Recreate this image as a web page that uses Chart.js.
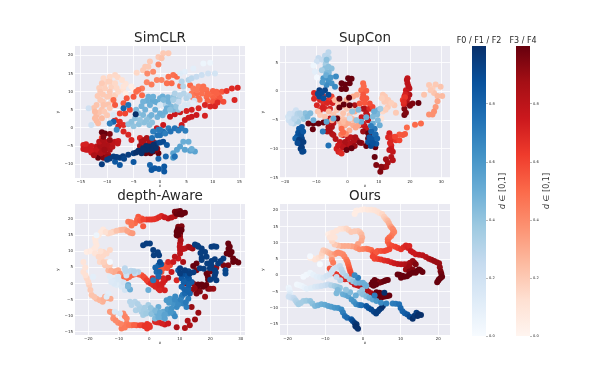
<!DOCTYPE html>
<html><head><meta charset="utf-8">
<script src="https://cdn.jsdelivr.net/npm/chart.js@4"></script>
<style>
html,body{margin:0;padding:0;background:#fff;width:599px;height:384px;overflow:hidden}
canvas{position:absolute;filter:blur(.3px)}
.cb{position:absolute;font-family:"DejaVu Sans";font-size:8px;color:#333;white-space:nowrap;transform:translate(-50%,-50%) rotate(-90deg)}
</style></head><body>
<canvas id="c1" style="left:55px;top:28px" width="195" height="160"></canvas>
<canvas id="c2" style="left:260px;top:28px" width="195" height="160"></canvas>
<canvas id="c3" style="left:55px;top:186px" width="195" height="159"></canvas>
<canvas id="c4" style="left:260px;top:186px" width="195" height="159"></canvas>
<canvas id="b1" style="left:451px;top:28px" width="56" height="314"></canvas>
<canvas id="b2" style="left:495px;top:28px" width="56" height="314"></canvas>
<div class="cb" style="left:502px;top:191px"><i>d</i> ∈ [0,1]</div>
<div class="cb" style="left:546px;top:191px"><i>d</i> ∈ [0,1]</div>
<script>
const bluesMap=["#f7fbff","#deebf7","#c6dbef","#9ecae1","#6baed6","#4292c6","#2171b5","#08519c","#08306b"];
const redsMap=["#fff5f0","#fee0d2","#fcbba1","#fc9272","#fb6a4a","#ef3b2c","#cb181d","#a50f15","#67000d"];
const panelTitles=["SimCLR","SupCon","depth-Aware","Ours"];
const barTitles=["F0 / F1 / F2","F3 / F4"];
const colorbarTicks=[0,0.2,0.4,0.6,0.8];

// [x, y, d]
const simclrBlue=[[-5,.5,.4],[-3,1.5,.42],[-1.5,1.5,.42],[-2,3,.45],[-.5,3,.48],[.5,3.5,.48],[1,4.5,.5],[2.5,5,.45],[3.5,5,.4],[3,6,.4],[2,6,.45],[1,6.5,.3],[-.5,7,.5],[-1.5,7.5,.52],[-2.5,7.5,.5],[-3.5,6,.48],[-4.5,5,.45],[.5,8.7,.5],[1.5,8.5,.48],[2.5,8.5,.4],[3.5,8,.35],[4.5,9.5,.3],[5.5,8.8,.28],[6.5,7.5,.2],[5.5,6.5,.15],[4,5.5,.15],[-6,1,.4],[-4,1,.42],[-2,.8,.42],
[-13.5,5.4,.2],[-13,.8,.2],[-8.8,3.6,.15],[-9.5,1.2,.3],[6.3,16.4,.1],[8.2,17.8,.05],[9.5,18,.05],[4.7,15.5,.1],[3.8,15,.12],
[4.1,12.8,.3],[5.4,13.2,.3],[6,13.7,.28],[6.9,14.1,.25],[7.9,14.6,.22],[9.1,15,.2],[10.4,15,.18],[4.4,11.4,.3],
[2.8,9.5,.32],[3.8,9,.3],[5,8.2,.3],[3.5,7.2,.25],[4.7,6.3,.15],[6.3,6.8,.1],
[-5.4,1.7,.42],[-4.7,2.7,.42],[-3.8,2.2,.4],[-4.1,4,.42],[-3.2,3.6,.45],[-2.5,2.2,.42],[-2.8,5,.48],[-1.9,6.3,.5],[-.9,7.2,.52],[0,8.2,.5],[.6,7.7,.45],[1.6,7.2,.48],[1.3,5.4,.5],[0,6.3,.15],[-.9,5,.5],[-1.6,3.6,.48],[0,4,.5],[1.9,5,.42],[2.5,7.7,.35],[-1.3,8.6,.5],[-2.2,8.6,.5],[-3.2,7.2,.48],
[-6.9,5.4,.8],[-6,6.3,.75],[-4.6,3.8,1],[-8.8,1.7,.8],[-9.5,1.2,.7],[-8.2,-.5,.65],
[2.5,-7,.55],[3.2,-6,.55],[3.8,-5.1,.55],[4.4,-3.8,.5],[5.4,-3.8,.5],[4.7,-6,.55],[5.7,-6.3,.55],[6.6,-6.5,.55],[6,-5.8,.5],[2.5,-8.2,.6],
[-1.3,-1,.7],[-.3,-.5,.7],[.6,-1,.75],[1.6,-.1,.7],[2.8,-.1,.75],[4.1,-.1,.7],[0,-2,.75],[1,-1.5,.7],[0,-.5,.72],[2,-1,.75],[3.5,-.7,.72],[-1.5,-2.8,.75],[-.5,-2,.75],[4.8,-.8,.7],
[-5,-9.4,.85],[-8.5,-9.3,.85],[-7.6,-10.2,.85],[-1.9,-10.2,.8],[-1.6,-11.6,.85],[-1,-11.1,.85],[-.2,-11.3,.85],[.8,-10.6,.85],[.8,-12,.85],[-.3,-8.5,.8],[1.1,-7.9,.8],[2.8,-7.9,.75],
[-11,-10,.95],[-10,-8.8,.95],[-8.8,-7.9,.95],[-7.6,-8.2,.95],[-6,-7.4,.95],[-5,-7,.95],[-4.1,-6.3,1],[-3.2,-5.6,1],[-1.9,-5.1,1],[-.6,-4.2,.95],[.6,-3.8,.9],[1.3,-4.7,.85],[-3.5,-7,1],[-2.5,-6,1],[-9.5,-8.4,.95],[-8.2,-8,.95],[-7,-7.8,.95],[-6.8,-8.5,.92],[-4.5,-6.8,1],[-2.6,-5,1],[-1.2,-4.6,1],[0,-4,.9],[-.8,-5.5,1],[-1.5,-6.3,1],[-3,-6,1]];
const simclrRed=[[-11.5,11,.18],[-10.5,12,.17],[-9.2,11.3,.17],[-8.2,11,.15],[-7,10.5,.12],[-10.8,9.2,.2],[-9.5,8.8,.2],[-8.5,9,.18],[-11.8,8.8,.2],[-11,5,.22],[-12,3.5,.25],[-10,3.5,.2],[-11.5,4.3,.22],[-10.8,7.2,.2],[-9.8,6.5,.22],[-12.5,5.5,.22],[-12,2,.25],[-9.5,12.8,.18],[-8,14,.15],[-6.5,12.2,.1],[-5,10.5,.03],
[-10.7,13.7,.15],[-9.5,14.1,.15],[-8.5,14.6,.15],[-7.2,13.2,.12],[-11,12.3,.2],[-9.8,12.8,.18],[-8.5,12.3,.15],[-6.9,11.4,.1],[-5.4,11.4,.05],[-10.4,10.9,.18],[-11.3,10,.2],[-9.5,10,.2],[-7.9,10,.15],[-11.3,7.7,.2],[-10,8.6,.2],[-12,6.3,.22],[-10.7,6.3,.22],[-12.3,4.5,.25],[-12.3,2.7,.25],[-11,2.7,.25],[-11.7,1.3,.25],[-10.5,4.5,.2],[-9,7.5,.2],[-9.5,5.5,.2],[-6.5,9.5,.05],
[-2.8,16.9,.2],[-1.9,18.3,.2],[-.3,19.6,.2],[.6,20.6,.2],[1.6,20.6,.2],[.3,19.2,.22],[-3.2,15.9,.2],[-4.4,15.2,.15],[-2.2,16.9,.2],
[-2.4,15,.4],[-1.3,15.5,.4],[-.3,17.5,.42],[-.6,13.2,.42],[.3,13.2,.42],[-3.4,10.9,.45],[-2.5,12.6,.42],[-1.6,12,.45],[-4.5,10,.5],[1.6,14.1,.48],[2.5,14.6,.48],[3.2,14.1,.5],[1.3,12.3,.48],[2.2,12.3,.5],[3.8,11.6,.5],[5.7,11.8,.5],
[-4.1,10.5,.5],[-3.4,9,.5],[-5,8.6,.55],[-6.3,8.2,.55],[-6.9,6.8,.55],[-8.8,7.7,.5],[-8.5,6.3,.55],[-5.7,5,.6],[-6.6,4,.6],[-7.6,4,.6],
[6.3,10.9,.45],[7.3,11.4,.45],[8.2,11.4,.48],[8.8,10.5,.48],[6,9.5,.45],[6.9,9.5,.48],[7.9,9.5,.48],[7.3,8.2,.48],[8.8,8.6,.5],[9.8,9,.5],[10.7,10,.52],[11.7,10,.55],[10.1,8.2,.52],[11,7.7,.55],[12,7.2,.58],[7,10.4,.45],[8,10.6,.48],[9,9.5,.5],[10,10.2,.52],[11,9,.52],[11.3,8.3,.55],[9,7.5,.52],[10,7.2,.55],[10.7,9.5,.52],[6.2,8.5,.45],[7.5,7.8,.48],
[12.6,10.2,.65],[13.6,10.9,.68],[14.7,11.1,.7],[14.1,7.7,.7],
[1.9,3.1,.75],[2.8,3.8,.75],[3.8,4.3,.75],[5,4.7,.72],[6,5,.72],[7.3,5.4,.7],[8.5,6.3,.7],[9.5,5.9,.7],[10.4,6,.7],[10.9,7,.68],[8.5,3.4,.72],[6.9,3.6,.75],[6,3.1,.75],[5.4,2.8,.75],[4.7,2.2,.75],[4.1,.8,.75],[3.5,-.5,.75],[.6,.8,.75],[-.6,-.1,.75],
[-8.5,2.2,.68],[-7.6,1.7,.68],[-6.9,.8,.68],[-7.9,.4,.7],[-6,-1.9,.7],[-6.9,-1,.7],[-5.4,-3.3,.7],[-3.8,-2.8,.7],[-11,-2.7,.6],
[-14.5,-4.7,.72],[-14.5,-5.8,.75],[-13.9,-5.1,.72],[-13.6,-6,.75],[-12.6,-6.3,.75],[-12,-5.1,.8],[-11.3,-4.2,.8],[-10.4,-3.8,.82],[-9.5,-3.8,.8],[-8.5,-3.8,.78],[-7.9,-3.6,.75],[-12,-7,.82],[-11,-6,.85],[-10,-5.6,.85],[-9.5,-6,.85],[-10.4,-7,.85],[-11.7,-8.2,1],[-10.7,-8.2,.95],[-9.8,-7.4,.88],[-13,-6.8,.75],[-14,-4.5,.72],[-13.2,-5.5,.75],[-13,-5,.75],[-14,-6,.75],[-12,-6,.78],[-11.3,-5,.85],[-10.5,-4.8,.85],[-11.2,-7,.85],[-10.5,-6,.88],[-9.6,-4.8,.85],[-9,-5.2,.82],[-9,-4,.8],[-8,-4.3,.78],[-11.5,-3.8,.8],[-10.8,-3.3,.85],[-12.5,-7.5,.85],[-10,-8,.9],
[-11,-1.2,1],[-10.4,-1.5,1],[-9.5,-1.7,.95],[-9.5,-3.3,.9],[-10.7,-2.4,.95],
[-3,-3.3,.85],[-2,-4,.85],[-3.8,-5,.88],[-3,-5.3,.88],[-1,-5,.9],[-.5,-5.7,.9],[-3.5,-3.8,.85],[-2.5,-2.8,.85],[-1.9,-3.3,.85],[-1.3,-3.8,.85],[-2.8,-4.7,.85],[-2.2,-5.1,.9],[-1.6,-5.4,.9],[-3.2,-6.3,.92],[-2.2,-6.3,.95],[-1.3,-6.5,1],[-.3,-7,1],[-2.7,-7,1],[-1.8,-7,1],[-.7,-6,.95]];

const supconBlue=[[-6.1,6.8,.28],[-9.3,5.8,.25],[-9.8,5.2,.2],[-8.2,5.5,.25],[-7.2,6.2,.28],[-10.9,4.5,.05],[-10.4,3.4,.1],[-9.8,2.4,.02],[-6.9,5,.3],[-6,5.8,.3],[-7,4.7,.35],
[-6.7,5.5,.42],[-6.1,4.3,.42],[-7.2,4,.42],[-5.1,4,.42],[-8.2,3.7,.35],[-6.7,3.1,.45],[-6,3.3,.45],
[-7.7,2.3,.6],[-6.1,2,.62],[-5.1,1.4,.62],[-3.7,2.6,.65],[-6.7,1.1,.65],[-4,.8,.65],[-8,1.6,.58],[-6.8,2.8,.5],[-5.4,2.4,.6],
[-9,.2,.95],[-7.2,.2,.92],[-6.1,-.6,.9],[-9,-.9,.9],[-7.7,-1.2,.88],[-8.2,-.2,.9],[-9.5,-.4,.9],
[-18.8,-5,.2],[-17.2,-3.8,.22],[-17.8,-4.7,.25],[-16.2,-4.4,.28],[-14.6,-4.4,.32],[-17.2,-5.6,.3],[-15.8,-5.3,.35],[-13.5,-3.8,.42],[-11.9,-3.8,.45],[-10.9,-5,.5],[-18,-5.5,.22],[-16.5,-3.3,.2],[-19,-4.4,.18],[-18.5,-3.9,.2],[-17,-4.8,.28],[-16,-3.9,.3],[-15.2,-3.8,.32],[-14,-4.8,.38],[-12.8,-4.4,.45],
[-14.6,-6.2,.85],[-15.1,-7,.88],[-16.2,-7.9,.85],[-14.6,-8.2,.92],[-15.1,-9.1,.95],[-14.1,-8.8,.95],[-14.6,-9.7,.95],[-14.1,-10.4,.9],[-16.7,-8.2,.8],[-15.5,-8.4,.95],[-15.5,-6.5,.85],[-16,-9,.9],[-15.8,-7.2,.88],[-14.8,-7.5,.9],[-15,-10,.95],[-14.5,-10.5,.92],[-14.2,-7,.85],
[-6.1,-9.4,.75],[-7.9,-7,.7],[-6.7,-5.3,.55],[-4.5,-4.7,.5],[.7,-4.7,.2],[4.4,-5.3,.5],[8.1,-4.4,.45],[9.7,-3.3,.5],[8.7,-6.5,.72],[7.6,-7,.8],[8.1,-8.2,.85],[9.2,-9.1,.85],[6.6,-8.8,.85],[9.7,-5,.45],[10.3,-5.9,.5],[8.1,-5.6,.5],[2.9,-5,.4],[1.5,-3.5,.4],[3.5,-3.2,.45],[6,-4.5,.5],[7.5,-9.5,.9],[9,-7.5,.8],[7.5,-6,.7],[8.8,-7.5,.78],[9.5,-8.2,.8],[8.1,-9,.88],[9.5,-4,.45],[10.5,-3,.35],[8.5,-3.5,.5],[7,-8,.85]];
const supconRed=[[-10.7,-.3,.7],[-10.7,-1.3,.7],[-9.8,-2.4,.7],[-8.8,-1.5,.7],[-7.7,-2.1,.68],[-6.1,-1.5,.65],[-5.1,-.9,.6],[-7.2,-3,.7],[-5.6,-3,.7],[-8.8,-3.3,.68],[-9.5,-.5,.65],[-7.8,-.8,.65],[-8,-2.8,.72],[-6.5,-2,.7],[-4.8,-2,.72],[-9,-.5,.68],
[-4.5,-5.5,.8],[-5,-6.2,.85],[-4.9,-7.4,.85],[-3.8,-8.3,.82],[-3.5,-10,.72],[-2.9,-10.5,.72],[-2,-9.5,.78],[-.5,-9.4,.82],[.3,-9.5,.85],[1,-8,.8],[2.5,-8,.85],[3,-8.5,.85],[4.5,-9,.9],[6,-9.5,1],[6.5,-9.3,1],[7,-7.7,1],[5.5,-3,.82],[6.3,-4.2,.8],[5.5,-6,.78],[4.5,-4.5,.75],[7,-3,.7],[8,-2.7,.6],
[-6.1,-6.2,.85],[-5.6,-7,.85],[-4.5,-7.6,.82],[-6.5,-7,.85],[-5.6,-4.7,.8],[-6.1,-5.4,.8],[6,-3.8,.8],[6.6,-5,.8],[5,-5.6,.75],[6,-6.5,.78],[5,-7,.9],[2.3,-2.4,.85],[5,-3,.85],[3.9,-5.9,.75],
[-2.4,-8.8,.78],[-1.4,-7.6,.8],[.2,-8.2,.8],[.7,-9.1,.82],[-.8,-8.8,.85],[-3,-9.4,.75],[-2.4,-10.5,.7],[-1.9,-10.8,.68],[-1.4,-9.7,.8],[1.8,-8.8,.85],[3.9,-8.9,.95],[2.3,-9.5,.9],[-.3,-10.2,1],[1.3,-9.9,1],[6.6,-8.2,1],[7.1,-8.8,1],[6.6,-7.3,1],
[-4,-1.5,.25],[-2.4,-1.8,.25],[1.8,-.9,.3],[-.3,-1.5,.28],[-3.5,-3.3,.2],[-1.4,-3.8,.22],[-.3,-5,.25],[.7,-4.1,.2],[2.3,-3.5,.3],[1.8,-5.9,.3],[-.8,-5.9,.3],[-2.4,-5.3,.28],[-8.8,-4.1,.2],[-7.2,-4.4,.22],[3.4,-5.9,.32],[-1.5,-4.8,.22],[.6,-6.8,.3],[-4.5,-4,.22],[-3,-4.6,.25],[-2,-6,.28],[-1.1,-5.3,.25],[.3,-5.5,.3],[1.5,-4.8,.25],[2.8,-5,.3],[2.6,-6.3,.32],[1,-3,.2],[-.2,-3,.2],[-1.5,-2.5,.22],[-3,-2.5,.2],[.5,-1,.25],[3,-.6,.3],[-6,-3.5,.25],[-5,-5,.3],[-9.5,-3.5,.22],[-2,-7.5,.45],[-.5,-7.4,.4],
[5,1.4,.5],[4.4,.2,.5],[6,.1,.52],[5,-.6,.55],[6,-1.2,.55],[7.1,-2.1,.58],[3.9,-2.1,.55],[5.2,.9,.5],[4.8,-1.2,.55],[5.5,-2,.55],
[11.3,-.6,.2],[11.8,-1.8,.2],[13.4,-1.9,.2],[15,-2.4,.2],[15.5,-3.7,.2],[12.9,-2.7,.2],[11.3,-3.5,.15],[10.8,-4.7,.1],[12,-.9,.2],[13,-1.5,.2],[14,-2,.18],[12.2,-3.2,.18],[11,-1.2,.18],
[24.5,-.6,.22],[26.1,1.1,.2],[27.2,.5,.18],[28.2,1.2,.2],[29.8,.8,.22],[27.7,-.3,.22],[30.3,-.8,.25],[28.8,-.8,.25],[26.6,.2,.2],
[28.8,-1.7,.32],[28.2,-2.7,.35],[27.7,-3.5,.38],[26.1,-4,.38],[27.2,-4,.38],
[19.2,2.3,.78],[19.2,1.4,.8],[19.8,.5,.8],[18.7,.2,.75],[18.2,-.9,.72],[19.8,-.6,.85],[18.7,-1.5,.7],[17.7,-1.5,.62],[19.2,-2.1,.85],[20.8,-2.1,.95],[22.7,-2,1],[18.2,-3,.95],[18.2,-4.1,.98],[18.7,-3.7,.95],[19,2,.8],[19.5,.9,.8],[19,-.4,.78],[18.5,-.5,.72],[19.3,-1.2,.8],[18,-2.2,.7],[18.4,-1,.65],[18,-1.8,.68],[20,-2.5,.95],
[19,-6.3,.5],[21.6,-5.8,.5],[23.5,-5.6,.5],
[13.4,-7.3,.72],[14,-8.5,.7],[14,-9.4,.72],[15.5,-8.5,.65],[16.6,-8.5,.6],[17.7,-7.6,.55],[16.6,-7.5,.55],[18.4,-7.4,.55],[13,-8,.7],[13.6,-9,.7],[14.2,-8,.68],[15.2,-7.9,.6],[14,-10,.75],[12.3,-11.8,.88],[11.6,-13.2,.9],
[13.4,-10.2,.78],[14.5,-10.5,.78],[14,-11.4,.82],[14.5,-12,.82],[12.9,-12.4,.88],[12.4,-13.1,.88],[10.8,-13.1,.92],[10.5,-14,.95],[9.2,-12.8,.95],[8.7,-11.4,1],[8.9,-9.7,1],
[-1.9,-6.5,.5],[-1.4,-7.1,.5],[-2.6,-1.3,1],[-1.2,-2.3,1],[-2.6,-2.8,1],[.7,-2.4,1],[.5,-1.1,1],[-3.3,-4.7,1],[-12.5,-5.6,1],[-10.9,-5.6,1],[-11.1,-6.6,1],[-9.3,-5.6,1],[-7.7,-5.4,1],[-1.9,1.4,1],[.2,2.3,1],[1.3,2.2,1],[-.8,1.2,1],[.7,1.4,1],[-1.9,.4,1],[-.5,.4,1]];

const depthBlue=[[-18.4,2.1,.1],[-17.3,15,.05],[-12.9,6.7,.02],[-12.9,2.1,.12],[-11.3,1,.15],[-10.2,2.1,.15],[-9.1,.5,.15],[-10.7,-.5,.12],[-13.4,-3.1,.1],[-14,-4.1,.12],[-9.1,-1,.15],[-11.3,-8.8,.15],[-9.6,-9.3,.15],[-11.8,.5,.13],[-8,-2,.18],[-11.5,-.1,.14],[-10,1.2,.15],[-8.4,.3,.18],[-12.5,.5,.13],
[-8,4.7,.28],[-6.9,3.6,.3],[-3.6,3.6,.3],[-4.7,3.1,.25],[-6.3,-5.7,.3],[-5.8,-6.7,.3],[-4.7,-5.7,.3],[-4.4,-8.3,.32],[-2.5,-8.8,.35],[-2,-9.8,.35],[-3.1,-7.3,.32],[-.3,-6.7,.35],[-.3,-8.8,.35],[-1.5,-7.5,.35],[-7.5,2.5,.2],[-7.8,3.8,.28],[-6,4,.28],[-5,3.8,.3],[-3.8,-6.4,.32],[-3.2,-8,.33],[-1.8,-8.5,.35],[-1,-9.3,.37],
[-6.9,-.5,.5],[-6.3,-1.9,.5],[-.3,-2,.5],[1.3,-8.3,.45],[3,-7.3,.5],[2.4,-9.3,.5],[4,-10.4,.52],[4.6,-8.8,.52],[5.1,-10.9,.55],[6.2,-9.3,.55],[1.9,-10.9,.45],[-7,-.9,.45],[.7,-9.5,.42],[.5,-7.6,.4],[2,-8.5,.45],[3.5,-9,.5],[3,-10.5,.5],[5,-9.7,.55],[6,-8,.58],
[7.9,-9.3,.62],[8.4,-10.2,.65],[7.3,-7.8,.62],[9,-7.3,.65],[9.5,-5.7,.65],[7.9,-6.2,.62],[6.8,-4.7,.6],[5.7,-5.2,.6],[11.1,-6.2,.68],[12.2,-7.3,.7],[12.8,-4.7,.72],[10.6,-4.1,.7],[8.5,-4,.65],[7,-9,.6],[6.5,-6,.6],[8.4,-5,.65],[9.5,-6.5,.65],[10.3,-5,.68],[11,-3.5,.72],[12,-5.8,.72],
[11.7,-3.1,.78],[13.3,-3.1,.8],[10.6,-1,.78],[12.8,-1.6,.8],[12.2,1,.82],[13.9,.5,.82],[10.6,1.6,.85],[9.5,4.1,.85],[11.7,3.6,.85],[3,5.7,.8],[2.4,3.6,.78],[1.3,1,.72],[3.4,3.6,.8],[11.5,-1.8,.8],[13,-.4,.82],[12.5,-2.2,.8],[11.3,.4,.82],[13,1.6,.85],[12.3,2.5,.87],[10.8,3,.9],[12.9,3.8,.92],[3,2.2,.78],[2,5,.8],[3.9,6,.85],
[-.9,12.4,.95],[.2,12.4,.95],[-2,11.9,.95],[1.3,10.4,.95],[3.2,8.8,.95],[3.5,6.7,.9],[15,12.1,.95],[16.1,11.4,.95],[17.2,10.9,.95],[18.3,9.8,.95],[18.8,8.3,.95],[17.2,8,.95],[20.4,11.4,.95],[22,11.4,.95],[20.4,5.7,.95],[21.5,4.1,.95],[21.5,2.6,.95],[22,1,.95],[19.9,4.7,.95],[22.6,6.2,.95],[24.3,7.8,.95],[25,4.1,.92],[25,3.1,.92],[10.1,4.7,.95],[11.7,4.1,.95],[13.3,3.1,.95],[16.6,4.7,.95],[17.2,7.3,.95],[10.1,3.1,.95],[14.5,3.5,.95],[17.9,4.6,.95],[19,6.2,.95],[20.4,7,.95],[21.5,7.5,.95],[23.4,7,.95],[16.8,9.5,.95],[15.8,11.8,.95],[21.2,11.6,.95],[21.8,3.4,.95],[21.3,1.8,.95],[20,1.2,.95],[1.5,8.8,.95],[2.8,9.7,.95]];
const depthRed=[[-21.6,6.7,.1],[-21.6,3.6,.12],[-20.5,1.6,.15],[-19.7,-.5,.18],[-18.9,-3.6,.22],[-17.3,-4.7,.25],[-15.3,-5.7,.28],[-14.5,-4.1,.28],[-12.7,-4.7,.3],[-21,5,.1],[-20.9,2.6,.12],[-20,.5,.15],[-19.3,-2,.2],[-18,-4.2,.22],[-16.2,-5.2,.26],[-15,-5,.28],[-13.6,-4.5,.3],
[-12.9,-8.8,.35],[-11.8,-9.3,.35],[-11.8,-10.9,.38],[-10.2,-12.2,.4],[-8.5,-13,.42],[-9.1,-14,.45],[-7.4,-12.4,.45],[-5.8,-13,.5],[-7.4,-10.9,.42],[-8.5,-9.3,.4],[-4.2,-13,.55],[-2.2,-13,.65],[-.7,-12.6,.65],[-.7,-14,.65],[.2,-13.5,.65],[1.9,-11.9,.7],[3.2,-12.1,.7],[5.1,-12.7,.75],[6.2,-12.4,.75],[9,-13.6,.85],[11.7,-13.8,.85],[13.3,-13,.85],[12.6,-11.6,.85],[15,-11.2,.9],[16.1,-9.1,.9],[13.9,-7.3,.9],[-12.3,-9,.35],[-11,-11.5,.4],[-9.3,-12.6,.42],[-8,-13.7,.45],[-6.6,-13,.47],[-8,-10.2,.42],[-5,-12.9,.52],[-3,-13,.6],[-1.5,-13.3,.65],[0,-13,.65],[2.5,-12,.7],[4.2,-12.4,.72],
[-20.5,9.8,.05],[-18.4,10.4,.08],[-17.3,11.9,.08],[-17.8,14,.08],[-16.6,15,.08],[-15.1,16.8,.08],[-13.5,15.5,.15],[-11.8,16.1,.18],[-9.6,16.6,.25],[-8,16.8,.28],[-6.3,15.8,.35],[-6.9,19.2,.45],[-4.7,18.7,.5],[-3.6,20.7,.55],[-2.5,20.2,.55],[-2,17.8,.55],[-.9,19.9,.65],[.8,19.9,.65],[2.4,20.2,.68],[4,21,.7],[6.2,20.2,.8],[8.4,20.9,.85],[8.4,22.3,.95],[10.1,22.5,1],[11.7,22,1],[9,21.7,1],[10.6,21.4,1],[-19.5,10,.06],[-17.8,11,.08],[-17.6,13,.08],[-17.2,14.5,.08],[-15.8,16,.08],[-14.3,16,.12],[-12.6,15.8,.16],[-10.7,16.4,.22],[-8.8,16.7,.27],[-7.2,16.3,.32],[-5.5,15.6,.35],[-6,19,.47],[-5.8,18,.47],[-4,19.8,.52],[-3,19.5,.55],[-1.9,19.9,.6],[0,19.9,.65],[1.6,20,.66],[3.2,20.6,.69],[5,20.6,.75],[7.3,20.5,.82],[9.2,22.4,.98],[9.9,21.5,1],[11,21.8,1],
[9.5,17.6,.95],[10.6,17.8,.95],[9,16.1,1],[10.1,15.5,1],[9,15,1],[10.6,16.6,1],[10.1,14.5,.9],[10.1,12.4,.8],[10.1,10.4,.8],[11.7,10.9,.8],[12.8,11.4,.85],[14.2,10.9,.9],[9.3,16.8,1],[9.5,14.8,1],[10.3,13.4,.85],[10,11.4,.8],[11,10.7,.8],[13.4,11.2,.88],
[-17.8,9.3,.1],[-16.6,8.3,.15],[-15.1,8.8,.15],[-16.2,6.7,.15],[-14,6.7,.15],[-12.9,10.4,.15],[-15.1,9.8,.15],[-14.5,5.7,.2],[-13.4,4.1,.25],[-11.8,3.6,.3],[-10.2,4.1,.3],[-9.1,2.1,.45],[-7.4,1.6,.5],[-5.8,2.6,.5],[-4.2,3.1,.5],[-2.5,2.6,.55],[-1.4,1.6,.6],[-.3,.5,.65],[1.3,-.5,.7],[3,-1.6,.7],[2.4,.5,.7],[4,-1,.72],[5.1,1,.75],[6.2,1.8,.8],[3.5,5.2,.55],[5.1,5.7,.55],[4,3.6,.55],[6.8,5.7,.6],[6.2,6.7,.7],[7.9,6.7,.75],[9.5,7.8,.75],[8.4,8.3,.8],[11.1,6.7,.85],[10.1,9.3,.8],[-14,9.3,.15],[-16,10,.12],[-15.7,7.7,.15],[-15,6.6,.18],[-13,5.5,.2],[-12.5,4,.28],[-11,3.8,.3],[-9.6,3,.38],[-8.2,1.8,.48],[-6.6,2,.5],[-5,2.8,.5],[-3.4,2.8,.52],[-1.9,2.1,.58],[-.8,1,.62],[.5,0,.68],[2,-1,.7],[1.5,.8,.7],[3.3,-.5,.72],[4.5,.2,.73],[3.2,4.3,.55],[4.6,4.7,.55],[5.9,4.8,.58],
[15.5,6.2,1],[15.5,4.1,.95],[19.3,1.2,1],[16,-1.6,1],[17.7,-1,1],[19.3,-1.6,.95],[21,-1.6,.9],[18.3,-4.1,.9],[18.8,3.1,1],[20.8,4.4,.95],[22,5,.9],[25.9,12.4,1],[26.4,11.4,1],[27,9.8,1],[25.4,9.3,1],[27.5,7.8,1],[29.2,6.5,1],[27.5,6.7,1],[25.9,5.7,.95],[24.3,5.7,.95],[14.4,5.4,1],[12.2,0,.9],[14.4,0,.9],[13.9,-2,.9],[15.5,-3.1,.95],[16,-.3,1],[17.2,-.3,1],[18.7,-.5,1],[20,-1.6,.92],[19.2,2.2,1],[20,3.7,.98],[26,10.8,1],[26.5,9,1],[28.3,7,1],[16.6,-2.5,.95],[14.9,-1.5,.92],
[1.1,1.6,.7],[3,2,.72],[4.6,1.6,.72],[7.3,3.6,.75],[9,1,.7],[3.5,-2.1,.7],[5.1,-2.1,.72]];

const oursBlue=[[-19.7,-3.8,.05],[-19.5,-4.5,.07],[-19.3,-5.3,.1],[-19.5,-6,.15],[-19.7,-6.6,.2],[-19,-6.9,.22],[-18.4,-6.9,.25],[-18.1,-7.3,.27],[-17.8,-7.8,.3],[-17.5,-8.3,.32],[-17.1,-8.9,.35],[-16.5,-8.5,.35],[-15.8,-7.9,.35],[-15,-7.8,.37],[-14,-7.9,.4],[-13.4,-8.6,.42],[-12.7,-9.4,.45],[-11.9,-9.2,.48],[-11,-8.9,.5],[-10.1,-9,.52],[-9.2,-9.4,.55],[-8.4,-9.6,.57],[-7.5,-9.9,.6],[-6.6,-10,.62],[-5.7,-10.5,.65],[-5.3,-11.4,.7],[-4.8,-12.5,.75],[-4.2,-13,.78],[-3.1,-13.5,.85],[-2.7,-14,.9],[-2.2,-14.6,.95],[-1.7,-15,.98],[-2,-15.6,1],[-1.6,-16,1],[-1.3,-16.4,1],
[-17.5,-2.8,.03],[-16.8,-3,.04],[-16.2,-3.3,.05],[-15.5,-3.7,.07],[-14.9,-4.1,.1],[-13.8,-3.9,.12],[-12.7,-3.5,.15],[-11.9,-3.4,.17],[-11,-3.3,.2],[-10,-3,.22],[-9.2,-2.8,.25],[-8.4,-3,.3],[-7.5,-3.3,.35],[-6.8,-3.5,.38],[-6.1,-3.8,.4],[-6.4,-4.7,.42],[-7,-5.5,.45],[-5.3,-5.8,.5],[-4.6,-6,.52],[-3.9,-6.4,.55],[-3,-7.4,.6],[-2.4,-8.1,.62],[-1.8,-8.9,.65],[-1,-9.1,.7],[-.4,-9.2,.75],[.9,-9.4,.85],[1.5,-10,.87],[2.2,-10.5,.9],[2.9,-11.2,.92],[3.5,-11.7,.95],[4,-11,.95],[4.4,-10.5,.95],[4.9,-10,.97],[5.3,-9.4,1],
[-14,5.9,.02],[-11.4,3.4,.01],[-15.8,-.4,.02],[-15,.2,.03],[-14,.8,.05],[-13.2,.2,.08],[-12.3,-.4,.1],[-11.4,-.6,.12],[-10.5,-.7,.15],[-9.7,-.2,.18],[-8.8,.3,.2],[-8.3,1,.2],[-7.9,1.8,.2],[-7,2.4,.22],[-6.1,2.9,.25],[-5.7,1.8,.28],[-5.3,.8,.3],[-4.4,-.2,.32],[-3.5,-1.2,.35],[-2.6,-1.8,.4],[-1.8,-2.3,.45],[-.9,-2.3,.48],[0,-2.3,.5],[.5,-2.8,.5],[.9,-3.3,.5],[-.2,-4.5,.4],[-.9,-5.3,.4],[0,-5.9,.42],[.9,-6.4,.45],[1.7,-6.9,.5],[2.6,-7.4,.55],[3.6,-7.9,.6],[4.8,-8.4,.65],[6.2,-8.6,.68],[7.9,-8.6,.7],[8.7,-8.7,.72],[9.6,-8.9,.75],[10,-10,.78],[10.5,-11,.8],[11.1,-11.6,.82],[11.8,-12,.85],[12.4,-12.7,.9],[13.2,-13.3,1],[13.7,-12.4,.97],[14.2,-11.5,.95],[14.8,-11.9,1],[15.4,-12.2,1],[14.5,-12.5,1],[3.1,-6.2,.7],[5.7,-5.3,1],[-1.3,-.7,.7],[-2.2,0,.65],[-6.7,-4.5,.45],[-3.4,-5.2,.45],[-1.9,-6.2,.5],[-4.5,-4.4,.4],[-6,-1.5,.3],[-7,-.5,.25]];
const oursRed=[[-2.2,18.8,.05],[-1.8,19.8,.05],[-1.5,19.9,.05],[-.4,20.1,.05],[.4,20.3,.06],[1.3,20.1,.08],[2.2,20.1,.09],[3.1,20,.1],[3.8,19.6,.11],[4.4,19.1,.12],[5.1,18.8,.15],[5.6,18,.18],[6,17.4,.2],[6.3,17,.22],[6.6,16.7,.25],[6.9,16,.28],[7.2,15.2,.3],[7.5,14.8,.35],[7.9,14.2,.4],[8.1,13.8,.4],[8.3,13.3,.42],[7.9,12.8,.43],[7.5,12.1,.45],[7,11.6,.48],[6.6,11.1,.5],[6.6,10.3,.52],[7,9.5,.55],[7.7,9.1,.58],[8.6,8.8,.6],[9.3,8.4,.62],[10.1,8,.65],[10.8,8.6,.68],[11.4,9.2,.7],[12,8.4,.72],[12.3,9,.7],[12.7,7.5,.75],[13.3,7,.75],[14,6.5,.75],[14.9,6.3,.78],[15.8,6.2,.8],[16.7,5.6,.82],[17.5,5.1,.85],[18.2,4.8,.88],[18.9,4.4,.9],[19.6,4,.9],[20.2,3.7,.9],[20.4,2.5,.92],[20.6,1.3,.95],[20.8,.5,.98],[21,-.4,1],[20.6,-.8,1],[20.2,-1.2,1],[20,-1.6,1],[19.7,-2.1,1],
[-9.2,12.6,.05],[-8.5,12.9,.07],[-7.9,13.1,.1],[-7,13.7,.1],[-6.1,14.2,.1],[-5.2,14.3,.12],[-4.4,14.4,.15],[-3.8,13.9,.17],[-3.1,13.3,.2],[-2.2,13.5,.2],[-1.3,13.6,.2],[-.8,13.2,.22],[-.4,12.6,.25],[-.2,11.6,.28],[-.4,10.6,.3],[-1.3,9.6,.33],[-2.2,8.8,.35],[-3,8.9,.33],[-3.9,9,.3],[-4.8,9,.3],[-5.7,9,.3],[-6.6,9.2,.25],[-7.5,9.5,.2],[-8.2,10.5,.15],[-8.8,11.6,.1],[-8.2,11.6,.1],[-7.5,11.6,.1],[-1.6,8.4,.37],[-.9,8,.4],[0,8.1,.42],[.9,8.2,.45],[1.5,8,.48],[2.2,7.8,.5],[2.7,7.1,.55],[3.1,6.5,.6],[3.5,7,.55],[3.9,7.5,.55],[4.8,7.5,.57],[5.7,7.5,.6],[6.3,7.7,.6],[7,8,.6],[2.6,5.8,.6],[3.1,5.1,.6],[4,5,.62],[4.8,4.9,.65],[5.7,4.6,.68],[6.6,4.4,.7],[7.5,4,.72],[8.3,3.7,.75],[9.2,3.5,.78],[10.1,3.4,.8],[11,3.4,.82],[11.8,3.4,.85],[12.5,3.9,.88],[13.2,4.4,.9],[13.6,3.9,.92],[14,3.4,.95],[12.3,2.8,.9],[11.4,1.8,.9],[13.2,1.8,.95],[12.3,1.2,.95],[12.3,.3,1],[13.2,.8,1],[14.5,1.4,1],[14.9,1.8,1],[15.3,1.5,1],[15.8,1,1],[14,.8,1],[11,-.4,1],[11.7,-.3,1],[10.5,-.1,1],[9.2,.3,1],[9.7,.2,1],[10.1,-.7,1],
[-14,5.4,.05],[-13.4,5.3,.07],[-12.7,4.9,.1],[-11.8,5.4,.12],[-11,5.9,.15],[-10.8,6.8,.17],[-10.5,7.7,.2],[-9.8,7.4,.22],[-9.2,7,.25],[-8.7,6.7,.28],[-8.3,6.5,.3],[-7.5,6.5,.35],[-7,6.8,.38],[-6.6,7,.4],[-5.9,6.8,.4],[-5.3,6.5,.4],[-4.9,5.8,.42],[-4.4,4.9,.45],[-4.1,4.2,.48],[-3.9,3.4,.5],[-3.7,2.6,.52],[-3.5,1.8,.55],[-3.3,1,.58],[-3.1,.3,.6],[-8.3,5.4,.3],[-8.2,4.7,.38],[-7.9,3.9,.45],[-8.8,2.1,.55],[-8.4,1.5,.58],[-7.9,.8,.6],[-7.5,.5,.62],[-7,.3,.65],[-6.3,-.5,.68],[-5.7,-1.2,.7],[-4.8,-1.2,.7],[-3.9,-1.2,.7],[-3,-2,.72],[-2.2,-2.8,.75],[-1.5,-3,.78],[-.9,-3.3,.8],[0,-3.8,.82],[.9,-4.3,.85],[1.5,-5,.85],[2.2,-5.5,.85],[2.9,-6,.9],[3.5,-6.4,.95],[4.1,-6.6,1],[4.8,-6.9,1],[5.5,-6.6,1],[6.1,-6.4,1],[6.5,-6.3,1],[7,-6.2,1],[3.6,-5.2,1],[4.4,-5.3,1],[5.2,-5.6,1],
[2.8,-3.2,1],[2.2,-2.8,1],[2.6,-2,1],[3.1,-1.4,1],[3.8,-1.9,1],[4.4,-2.3,.95],[5,-2,.98],[5.7,-1.7,1],[6.1,-1.5,1],[6.6,-1.4,1],[3.5,-2.8,1]];

const panelPoints=[[simclrBlue,simclrRed],[supconBlue,supconRed],[depthBlue,depthRed],[oursBlue,oursRed]];
const panelRanges=[{x:[-16.08,16.08,5],y:[-13.8,22.6,5]},{x:[-21.6,32.8,10],y:[-15.07,7.9,5]},{x:[-24.35,31.4,10],y:[-16,24.7,5]},{x:[-22,23.1,10],y:[-18.3,21.9,5]}];

function cmap(stops,d){
  const t=Math.max(0,Math.min(1,d))*(stops.length-1),i=Math.min(Math.floor(t),stops.length-2),f=t-i;
  const h=s=>[1,3,5].map(k=>parseInt(s.substr(k,2),16));
  const a=h(stops[i]),b=h(stops[i+1]);
  return `rgb(${a.map((v,k)=>Math.round(v+(b[k]-v)*f)).join(",")})`;
}
const minus=v=>String(v).replace("-","\u2212");
const INK="#262626",TF='"DejaVu Sans"';
const axesBg={id:"axesBg",beforeDraw(c){const a=c.chartArea,x=c.ctx;x.save();x.fillStyle="#eaeaf2";x.fillRect(a.left,a.top,a.width,a.height);x.restore();}};

panelPoints.forEach((p,i)=>{
  const r=panelRanges[i];
  const axis=(rg,title,fit)=>({type:"linear",min:rg[0],max:rg[1],
    grid:{color:"#fff",lineWidth:.8,drawTicks:false},border:{display:false},
    ticks:{stepSize:rg[2],includeBounds:false,autoSkip:false,maxRotation:0,padding:2,color:INK,font:{family:TF,size:4},callback:minus},
    title:{display:true,text:title,color:INK,font:{family:TF,size:4},padding:{top:1,bottom:0}},
    afterFit:fit});
  new Chart(document.getElementById("c"+(i+1)),{type:"scatter",plugins:[axesBg],
    data:{datasets:[[p[0],bluesMap],[p[1],redsMap]].map(([pts,m])=>({
      data:pts.map(q=>({x:q[0],y:q[1]})),
      pointBackgroundColor:pts.map(q=>cmap(m,q[2])),pointBorderWidth:0,pointRadius:3,pointHoverRadius:3}))},
    options:{responsive:false,animation:false,devicePixelRatio:1,
      layout:{padding:{right:5,left:0,top:0,bottom:0}},
      plugins:{legend:{display:false},tooltip:{enabled:false},
        title:{display:true,text:panelTitles[i],fullSize:false,color:INK,font:{family:TF,size:13.5,weight:"normal",lineHeight:1},padding:{top:4,bottom:.5}}},
      scales:{x:axis(r.x,"x",s=>{s.height=10}),y:axis(r.y,"y",s=>{s.width=20})}}});
});

[[bluesMap,"b1",0],[redsMap,"b2",1]].forEach(([m,id,k])=>{
  new Chart(document.getElementById(id),{type:"bar",
    data:{labels:["d"],datasets:[{data:[1],barPercentage:1,categoryPercentage:1,borderWidth:0,yAxisID:"y",
      backgroundColor:c=>{const a=c.chart.chartArea;if(!a)return m[4];
        const g=c.chart.ctx.createLinearGradient(0,a.bottom,0,a.top);
        m.forEach((s,j)=>g.addColorStop(j/(m.length-1),s));return g;}}]},
    options:{responsive:false,animation:false,devicePixelRatio:1,
      layout:{padding:{left:0,right:0,top:0,bottom:6}},
      plugins:{legend:{display:false},tooltip:{enabled:false},
        title:{display:true,text:barTitles[k],color:INK,font:{family:TF,size:8,weight:"normal",lineHeight:1},padding:{top:9,bottom:1}}},
      scales:{x:{display:false},
        spacer:{position:"left",display:true,grid:{display:false},border:{display:false},ticks:{display:false},afterFit:s=>{s.width=21}},
        y:{position:"right",min:0,max:1,grid:{display:true,drawOnChartArea:false,color:"#777",tickLength:2,lineWidth:.5},border:{display:false},
          afterBuildTicks:s=>{s.ticks=colorbarTicks.map(v=>({value:v}))},
          ticks:{padding:1,color:INK,font:{family:TF,size:3.6},callback:v=>v.toFixed(1)},
          afterFit:s=>{s.width=21}}}}});
});
</script>
</body></html>
